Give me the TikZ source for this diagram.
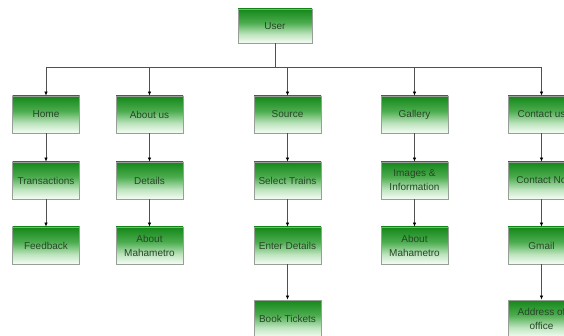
\documentclass[tikz,border=0pt]{standalone}
\usepackage{fontspec}
\setmainfont{Liberation Sans}
\usetikzlibrary{arrows.meta}
\definecolor{boxgreen}{RGB}{20,135,25}
\definecolor{boxmid}{RGB}{75,172,78}
\definecolor{boxpale}{RGB}{190,228,190}
\definecolor{boxlight}{RGB}{245,252,245}
\definecolor{boxtext}{RGB}{40,70,40}
\definecolor{edgegray}{RGB}{150,160,150}
\definecolor{linegray}{RGB}{80,80,80}
\pgfdeclareverticalshading{boxshade}{100bp}{color(0bp)=(boxlight); color(25bp)=(boxlight); color(38bp)=(boxpale); color(55bp)=(boxmid); color(75bp)=(boxgreen); color(100bp)=(boxgreen)}
\tikzset{
  box/.style={draw=edgegray, line width=0.8pt, shading=boxshade,
    minimum width=67pt, minimum height=37pt, inner sep=1pt, align=center,
    font=\fontsize{10}{14}\selectfont, text=boxtext},
  conn/.style={draw=linegray, line width=0.7pt, -{Latex[length=4pt,width=3.5pt,black]}},
  plain/.style={draw=linegray, line width=0.7pt}
}
\begin{document}
\begin{tikzpicture}[x=1pt,y=-1pt]
\useasboundingbox (0,0) rectangle (564,336);
\clip (0,0) rectangle (564,336);
\node[box, minimum width=74pt, minimum height=34pt] (user) at (275,26) {User};
\coordinate (bus) at (275,67);
% row 1
\node[box] (home) at (46,114.5) {Home};
\node[box] (about) at (149.5,114.5) {About us};
\node[box] (source) at (287.5,114.5) {Source};
\node[box] (gallery) at (414.5,114.5) {Gallery};
\node[box] (contact) at (541.5,114.5) {Contact us};
% row 2
\node[box] (trans) at (46,180.5) {Transactions};
\node[box] (details) at (149.5,180.5) {Details};
\node[box] (select) at (287.5,180.5) {Select Trains};
\node[box] (images) at (414.5,180.5) {Images \&\\Information};
\node[box] (contactno) at (541.5,180.5) {Contact No};
% row 3
\node[box] (feedback) at (46,245.5) {Feedback};
\node[box] (aboutm1) at (149.5,245.5) {About\\Mahametro};
\node[box] (enter) at (287.5,245.5) {Enter Details};
\node[box] (aboutm2) at (414.5,245.5) {About\\Mahametro};
\node[box] (gmail) at (541.5,245.5) {Gmail};
% row 4
\node[box] (book) at (287.5,318.5) {Book Tickets};
\node[box] (address) at (541.5,318.5) {Address of\\office};
% connectors
\draw[plain] (user.south) -- (bus);
\foreach \n in {home,about,source,gallery,contact}
  \draw[conn] (bus) -| (\n.north);
\draw[conn] (home) -- (trans);
\draw[conn] (trans) -- (feedback);
\draw[conn] (about) -- (details);
\draw[conn] (details) -- (aboutm1);
\draw[conn] (source) -- (select);
\draw[conn] (select) -- (enter);
\draw[conn] (enter) -- (book);
\draw[conn] (gallery) -- (images);
\draw[conn] (images) -- (aboutm2);
\draw[conn] (contact) -- (contactno);
\draw[conn] (contactno) -- (gmail);
\draw[conn] (gmail) -- (address);
\end{tikzpicture}
\end{document}
